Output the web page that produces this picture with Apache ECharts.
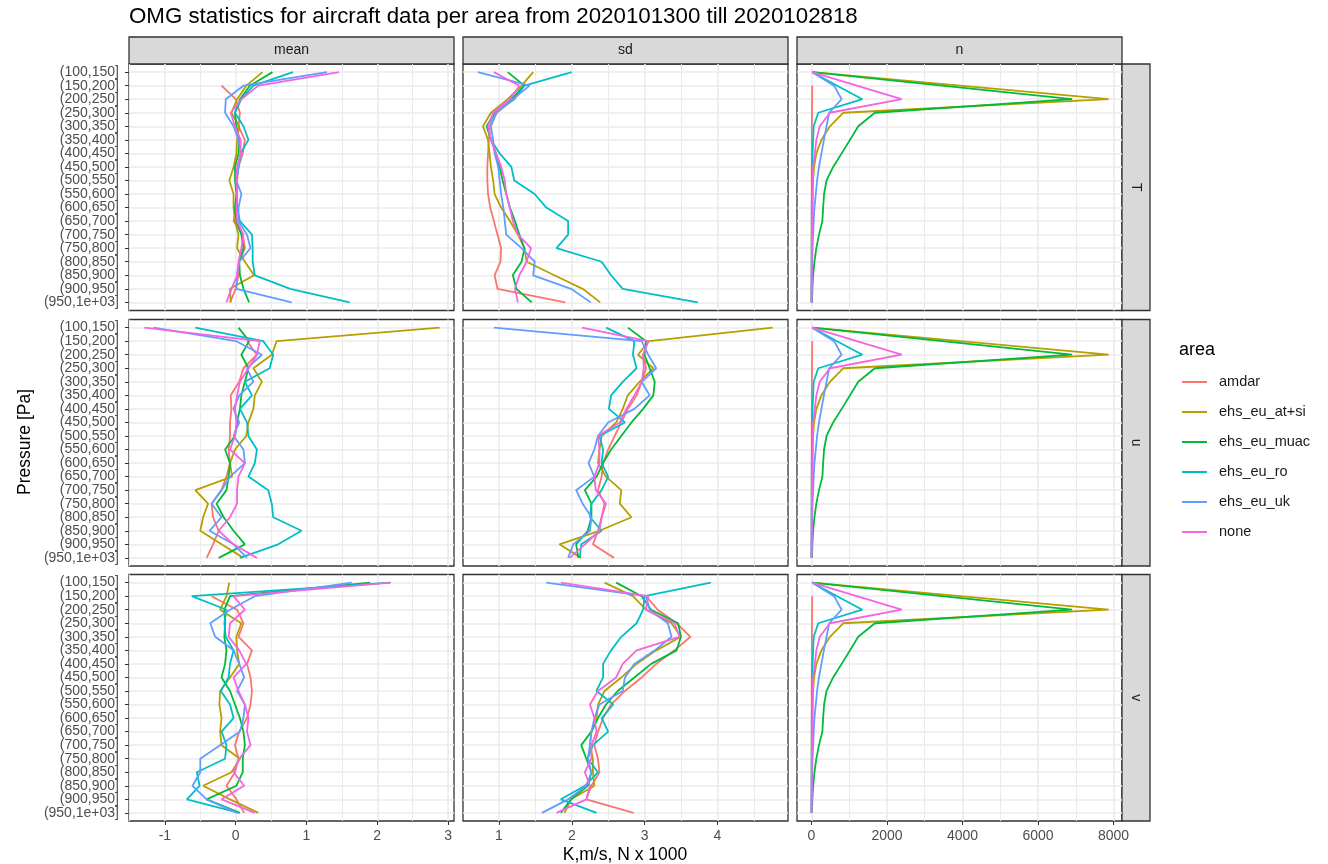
<!DOCTYPE html>
<html>
<head>
<meta charset="utf-8">
<script src="https://cdn.jsdelivr.net/npm/echarts@6/dist/echarts.min.js"></script>
<style>
  html, body { margin: 0; padding: 0; background: #fff; }
  #chart { width: 1328px; height: 864px; }
</style>
</head>
<body>
<div id="chart"></div>
<script>
// pressure bins (y), top to bottom
const categories = ['(100,150]', '(150,200]', '(200,250]', '(250,300]', '(300,350]', '(350,400]',
  '(400,450]', '(450,500]', '(500,550]', '(550,600]', '(600,650]', '(650,700]', '(700,750]',
  '(750,800]', '(800,850]', '(850,900]', '(900,950]', '(950,1e+03]'];
const areas = ['amdar', 'ehs_eu_at+si', 'ehs_eu_muac', 'ehs_eu_ro', 'ehs_eu_uk', 'none'];
const areaColors = ['#F8766D', '#B79F00', '#00BA38', '#00BFC4', '#619CFF', '#F564E3'];
const stats = ['mean', 'sd', 'n'];
const variables = ['T', 'u', 'v'];

// each list: one row per area (same order as areas), one value per pressure bin
const meanT = [
  [null, -0.2, 0.0, 0.06, 0.04, 0.13, 0.1, 0.04, 0.02, 0.02, 0.01, -0.03, 0.1, 0.13, 0.05, 0.04, 0.0, -0.08],
  [0.38, 0.15, 0.02, -0.06, 0.05, 0.02, 0.01, -0.03, -0.09, -0.03, -0.03, -0.01, 0.04, 0.02, 0.13, 0.26, -0.08, -0.07],
  [0.52, 0.2, 0.06, -0.01, 0.01, 0.05, 0.04, -0.01, -0.01, 0.01, -0.01, 0.01, 0.08, 0.11, 0.05, 0.06, 0.11, 0.19],
  [0.81, 0.25, 0.08, -0.01, 0.11, 0.18, 0.07, 0.04, 0.01, 0.02, 0.02, 0.06, 0.23, 0.24, 0.24, 0.27, 0.77, 1.61],
  [1.29, 0.11, -0.14, -0.15, -0.03, 0.04, 0.07, 0.04, 0.01, 0.08, 0.04, 0.04, 0.16, 0.21, 0.05, 0.02, 0.01, 0.79],
  [1.46, 0.32, 0.08, -0.07, -0.01, 0.07, 0.07, 0.02, 0.01, 0.02, 0.01, 0.02, 0.11, 0.08, 0.04, 0.02, -0.06, -0.13]
];
const sdT = [
  [null, 1.33, 1.2, 0.97, 0.88, 0.86, 0.85, 0.84, 0.84, 0.85, 0.88, 0.93, 0.98, 1.03, 1.02, 0.94, 0.98, 1.91],
  [1.47, 1.31, 1.12, 0.89, 0.78, 0.85, 0.87, 0.89, 0.92, 0.94, 1.03, 1.15, 1.26, 1.35, 1.38, 1.76, 2.15, 2.39],
  [1.12, 1.35, 1.17, 0.94, 0.83, 0.89, 0.96, 1.01, 1.05, 1.1, 1.15, 1.22, 1.28, 1.35, 1.31, 1.19, 1.24, 1.45],
  [2.0, 1.35, 1.21, 0.94, 0.85, 0.89, 1.01, 1.17, 1.21, 1.49, 1.65, 1.95, 1.95, 1.79, 2.41, 2.54, 2.7, 3.73],
  [0.71, 1.42, 1.19, 0.96, 0.89, 0.92, 0.94, 0.99, 1.01, 1.03, 1.06, 1.08, 1.1, 1.31, 1.49, 1.47, 1.99, 2.26],
  [0.93, 1.28, 1.15, 0.92, 0.85, 0.89, 0.96, 1.03, 1.08, 1.1, 1.15, 1.19, 1.26, 1.44, 1.38, 1.28, 1.22, 1.26]
];
const meanU = [
  [null, 0.16, 0.3, 0.11, 0.05, -0.07, -0.06, -0.08, -0.08, -0.1, -0.08, -0.13, -0.2, -0.34, -0.32, -0.24, -0.32, -0.41],
  [2.88, 0.58, 0.51, 0.25, 0.37, 0.27, 0.25, 0.18, 0.15, -0.01, -0.08, -0.05, -0.57, -0.39, -0.46, -0.5, -0.2, 0.11],
  [0.04, 0.19, 0.08, 0.18, 0.13, 0.08, 0.06, 0.02, -0.01, -0.15, -0.08, -0.1, -0.13, -0.27, -0.17, -0.03, 0.13, -0.24],
  [-0.57, 0.39, 0.53, 0.48, 0.13, 0.23, 0.06, 0.16, 0.18, 0.3, 0.27, 0.18, 0.46, 0.51, 0.53, 0.93, 0.6, 0.06],
  [-1.16, 0.01, 0.37, 0.16, 0.25, 0.05, -0.03, 0.05, -0.03, 0.11, 0.13, -0.08, -0.2, -0.34, -0.2, -0.37, -0.03, 0.16],
  [-1.29, 0.34, 0.3, 0.18, 0.06, 0.02, -0.01, 0.01, -0.01, -0.08, 0.13, 0.04, 0.02, 0.02, -0.08, -0.24, -0.03, 0.3]
];
const sdU = [
  [null, 3.05, 2.98, 3.02, 2.96, 2.89, 2.77, 2.68, 2.59, 2.5, 2.43, 2.41, 2.36, 2.45, 2.41, 2.36, 2.29, 2.58],
  [4.76, 3.06, 2.91, 3.12, 2.93, 2.77, 2.7, 2.61, 2.41, 2.38, 2.36, 2.47, 2.68, 2.66, 2.82, 2.38, 1.83, 2.13],
  [2.77, 3.02, 3.0, 3.07, 3.14, 3.12, 2.98, 2.82, 2.68, 2.54, 2.43, 2.34, 2.18, 2.27, 2.27, 2.22, 2.06, 2.09],
  [2.47, 2.86, 2.84, 2.89, 2.7, 2.54, 2.51, 2.73, 2.38, 2.43, 2.41, 2.5, 2.41, 2.27, 2.25, 2.41, 2.13, 2.11],
  [0.93, 2.96, 3.05, 3.16, 2.96, 3.07, 2.86, 2.5, 2.36, 2.31, 2.23, 2.31, 2.06, 2.15, 2.27, 2.25, 2.02, 1.95],
  [2.14, 3.05, 2.98, 2.99, 2.96, 2.86, 2.75, 2.66, 2.36, 2.38, 2.38, 2.31, 2.33, 2.47, 2.41, 2.38, 2.18, 1.97]
];
const meanV = [
  [null, -0.34, 0.02, 0.11, 0.04, 0.23, 0.16, 0.21, 0.23, 0.21, 0.16, 0.05, -0.01, 0.04, -0.01, -0.13, 0.01, 0.12],
  [-0.09, -0.13, -0.22, 0.08, 0.01, 0.02, 0.05, -0.08, -0.22, -0.23, -0.2, -0.22, -0.2, 0.06, -0.06, -0.46, -0.08, 0.32],
  [1.9, -0.08, -0.16, -0.15, -0.16, -0.13, -0.15, -0.2, -0.08, -0.01, 0.06, 0.11, 0.13, 0.1, 0.1, 0.01, -0.41, 0.06],
  [2.18, -0.62, -0.13, -0.16, -0.14, -0.03, -0.08, -0.1, -0.21, -0.08, -0.03, -0.2, -0.13, -0.15, -0.55, -0.51, -0.69, 0.05],
  [1.64, 0.27, -0.08, -0.36, -0.29, -0.03, 0.05, 0.12, 0.02, 0.13, 0.11, 0.06, -0.22, -0.5, -0.5, -0.61, -0.41, 0.02],
  [2.19, -0.03, 0.13, -0.08, -0.1, 0.05, 0.15, -0.03, 0.04, 0.13, 0.18, 0.16, 0.21, 0.05, -0.03, 0.12, -0.2, 0.27]
];
const sdV = [
  [null, 3.02, 3.18, 3.44, 3.63, 3.41, 3.16, 2.96, 2.73, 2.54, 2.43, 2.36, 2.31, 2.36, 2.38, 2.27, 2.2, 2.85],
  [2.45, 2.84, 3.02, 3.37, 3.5, 3.16, 2.89, 2.68, 2.45, 2.36, 2.34, 2.27, 2.25, 2.29, 2.29, 2.31, 1.99, 1.9],
  [2.61, 2.96, 3.09, 3.46, 3.5, 3.44, 3.09, 2.86, 2.63, 2.47, 2.36, 2.27, 2.13, 2.2, 2.27, 2.22, 1.99, 1.85],
  [3.91, 3.0, 2.98, 2.89, 2.68, 2.54, 2.43, 2.43, 2.34, 2.57, 2.41, 2.5, 2.29, 2.22, 2.36, 2.18, 1.85, 2.34],
  [1.65, 3.02, 3.07, 3.32, 3.37, 3.14, 2.86, 2.73, 2.7, 2.38, 2.31, 2.27, 2.25, 2.22, 2.27, 2.2, 1.95, 1.59],
  [1.85, 3.05, 3.02, 3.41, 3.48, 2.89, 2.7, 2.61, 2.36, 2.25, 2.31, 2.34, 2.27, 2.27, 2.18, 2.25, 2.2, 1.79]
];
// counts are the same for T, u and v
const nCounts = [
  [null, 20, 18, 15, 12, 10, 10, 8, 8, 8, 6, 6, 5, 5, 5, 4, 4, 3],
  [20, 3940, 7870, 840, 490, 265, 130, 70, 45, 35, 30, 25, 20, 18, 15, 12, 10, 8],
  [20, 3460, 6900, 1680, 1240, 1020, 800, 575, 400, 335, 310, 290, 200, 130, 80, 45, 25, 15],
  [20, 680, 1350, 180, 60, 45, 30, 20, 15, 12, 10, 8, 8, 6, 5, 4, 3, 2],
  [20, 600, 800, 470, 400, 330, 265, 200, 150, 115, 80, 60, 45, 30, 20, 15, 10, 8],
  [20, 1200, 2390, 490, 220, 130, 90, 45, 35, 30, 25, 20, 15, 12, 10, 8, 6, 5]
];

const panels = [
  [meanT, sdT, nCounts],
  [meanU, sdU, nCounts],
  [meanV, sdV, nCounts]
];

// x scale per column
const xRanges = [[-1.507, 3.084], [0.506, 4.97], [-382, 8223]];
const xMajor = [[-1, 0, 1, 2, 3], [1, 2, 3, 4], [0, 2000, 4000, 6000, 8000]];
const xMinor = [[-1.5, -0.5, 0.5, 1.5, 2.5], [1.5, 2.5, 3.5, 4.5], [1000, 3000, 5000, 7000]];

// layout
const colLeft = [129, 463, 797];
const panelW = 325;
const rowTop = [64, 319.5, 574.5];
const panelH = 246.5;
const stripTop = 37, stripH = 27, stripRightW = 28;

const yIdx = categories.map((c, i) => i);
// labels split over two axes so that echarts does not drop neighbours of the end labels
const yEven = yIdx.filter(i => i % 2 === 0);
const yOdd = yIdx.filter(i => i % 2 === 1);
const gridColor = '#EBEBEB';
const textGrey = '#4D4D4D';
const dark = '#333333';
const font = 'Liberation Sans, Arial, sans-serif';

const grids = [], xAxes = [], yAxes = [], series = [];
for (let r = 0; r < 3; r++) {
  for (let c = 0; c < 3; c++) {
    const g = grids.length;
    grids.push({
      left: colLeft[c], top: rowTop[r], width: panelW, height: panelH,
      show: true, backgroundColor: '#fff', borderColor: dark, borderWidth: 1.3
    });
    // axis with labels / major grid
    xAxes.push({
      type: 'value', gridIndex: g, min: xRanges[c][0], max: xRanges[c][1], position: 'bottom',
      axisLine: { show: false, onZero: false },
      axisTick: { show: r === 2, customValues: xMajor[c], length: 4, lineStyle: { color: dark, width: 1 } },
      axisLabel: { show: r === 2, customValues: xMajor[c], color: textGrey, fontSize: 14, margin: 8,
        fontFamily: font, showMinLabel: true, showMaxLabel: true, formatter: v => String(v) },
      splitLine: { show: true, lineStyle: { color: gridColor, width: 1.6 } }
    });
    // axis used only for minor grid lines
    xAxes.push({
      type: 'value', gridIndex: g, min: xRanges[c][0], max: xRanges[c][1], position: 'bottom',
      axisLine: { show: false, onZero: false },
      axisTick: { show: false, customValues: xMinor[c] },
      axisLabel: { show: false },
      splitLine: { show: true, lineStyle: { color: gridColor, width: 1 } }
    });
    [yEven, yOdd].forEach((labelVals, k) => {
      yAxes.push({
        type: 'value', gridIndex: g, min: -0.6, max: 17.6, inverse: true, position: 'left', offset: 0,
        axisLine: { show: false, onZero: false },
        axisTick: { show: c === 0 && k === 0, customValues: k === 0 ? yIdx : labelVals, length: 4,
          lineStyle: { color: dark, width: 1 } },
        axisLabel: { show: c === 0, customValues: labelVals, color: textGrey, fontSize: 14, margin: 10,
          fontFamily: font, showMinLabel: true, showMaxLabel: true,
          formatter: v => categories[Math.round(v)] },
        splitLine: { show: k === 0, lineStyle: { color: gridColor, width: 1.6 } }
      });
    });
    const values = panels[r][c];
    areas.forEach((name, a) => {
      const pts = [];
      values[a].forEach((v, i) => { if (v !== null) pts.push([v, i]); });
      series.push({
        type: 'line', name: name, xAxisIndex: 2 * g, yAxisIndex: 2 * g,
        data: pts, symbol: 'none', showSymbol: false, silent: true,
        lineStyle: { color: areaColors[a], width: 1.8 },
        itemStyle: { color: areaColors[a] }
      });
    });
  }
}

const graphics = [];
stats.forEach((s, c) => {
  graphics.push({
    type: 'rect', shape: { x: colLeft[c], y: stripTop, width: panelW, height: stripH },
    style: { fill: '#D9D9D9', stroke: dark, lineWidth: 1.3 }
  });
  graphics.push({
    type: 'text', x: colLeft[c] + panelW / 2, y: stripTop + stripH / 2,
    style: { text: s, align: 'center', verticalAlign: 'middle', fontSize: 14, fill: '#1A1A1A', fontFamily: font }
  });
});
variables.forEach((v, r) => {
  const x0 = colLeft[2] + panelW;
  graphics.push({
    type: 'rect', shape: { x: x0, y: rowTop[r], width: stripRightW, height: panelH },
    style: { fill: '#D9D9D9', stroke: dark, lineWidth: 1.3 }
  });
  graphics.push({
    type: 'text', x: x0 + stripRightW / 2, y: rowTop[r] + panelH / 2, rotation: -Math.PI / 2,
    style: { text: v, align: 'center', verticalAlign: 'middle', fontSize: 14, fill: '#1A1A1A', fontFamily: font }
  });
});
graphics.push({
  type: 'text', x: 25, y: 442, rotation: Math.PI / 2,
  style: { text: 'Pressure [Pa]', align: 'center', verticalAlign: 'middle', fontSize: 17.5, fill: '#000', fontFamily: font }
});
graphics.push({
  type: 'text', x: 625, y: 855,
  style: { text: 'K,m/s, N x 1000', align: 'center', verticalAlign: 'middle', fontSize: 17.5, fill: '#000', fontFamily: font }
});
graphics.push({
  type: 'text', x: 1179, y: 350,
  style: { text: 'area', align: 'left', verticalAlign: 'middle', fontSize: 18, fill: '#000', fontFamily: font }
});

const chart = echarts.init(document.getElementById('chart'));
chart.setOption({
  animation: false,
  backgroundColor: '#fff',
  title: {
    text: 'OMG statistics for aircraft data per area from 2020101300 till 2020102818',
    left: 124, top: 1,
    textStyle: { fontSize: 22.3, fontWeight: 'normal', color: '#000', fontFamily: font }
  },
  legend: {
    data: areas, orient: 'vertical', left: 1177, top: 369.5,
    icon: 'rect', itemWidth: 25, itemHeight: 2, itemGap: 15,
    textStyle: { fontSize: 14.5, color: '#1A1A1A', padding: [0, 0, 0, 7], fontFamily: font }
  },
  grid: grids,
  xAxis: xAxes,
  yAxis: yAxes,
  series: series,
  graphic: graphics
});
</script>
</body>
</html>
